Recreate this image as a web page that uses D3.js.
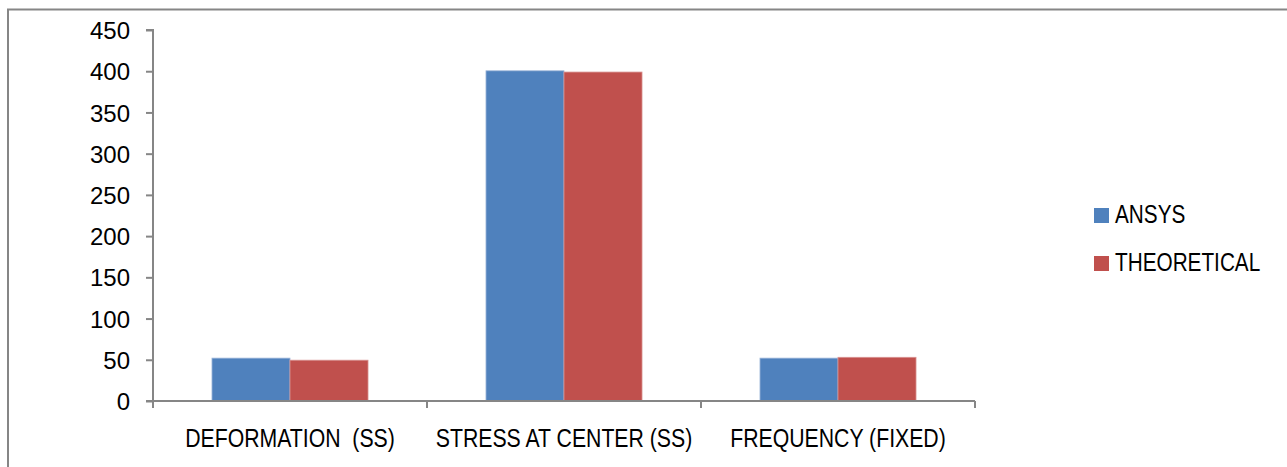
<!DOCTYPE html>
<html>
<head>
<meta charset="utf-8">
<script src="https://cdn.jsdelivr.net/npm/d3@7"></script>
<style>
  body { margin: 0; background: #fff; }
  svg text { font-family: "Liberation Sans", Arial, sans-serif; fill: #000; }
</style>
</head>
<body>
<div id="chart"></div>
<script>
// chart data
const categories = ["DEFORMATION  (SS)", "STRESS AT CENTER (SS)", "FREQUENCY (FIXED)"];
const seriesNames = ["ANSYS", "THEORETICAL"];
const ansysValues = [52, 400.5, 52];
const theoreticalValues = [49.5, 399, 53];
const yTicks = [0, 50, 100, 150, 200, 250, 300, 350, 400, 450];
const colors = ["#4F81BD", "#C0504D"];

const W = 1287, H = 467;
const svg = d3.select("#chart").append("svg")
    .attr("width", W)
    .attr("height", H);

// outer frame
svg.append("rect")
    .attr("x", 8).attr("y", 9.5)
    .attr("width", W + 10).attr("height", H + 10)
    .attr("fill", "none")
    .attr("stroke", "#868686")
    .attr("stroke-width", 2);

const plot = {left: 153, right: 975, top: 30, bottom: 401};

const x0 = d3.scaleBand()
    .domain(categories)
    .range([plot.left, plot.right])
    .paddingInner(0).paddingOuter(0);

// excel-like gap width between groups
const x1 = d3.scaleBand()
    .domain(seriesNames)
    .range([0, x0.bandwidth()])
    .paddingInner(0)
    .paddingOuter(0.756);

const y = d3.scaleLinear()
    .domain([0, 450])
    .range([plot.bottom, plot.top]);

const data = categories.map((c, i) => ({
    cat: c,
    vals: [ansysValues[i], theoreticalValues[i]]
}));

// bars
const groups = svg.selectAll(".grp")
    .data(data)
    .enter().append("g")
    .attr("class", "grp")
    .attr("transform", d => `translate(${x0(d.cat)},0)`);

groups.selectAll("rect")
    .data(d => d.vals.map((v, j) => ({name: seriesNames[j], v: v, j: j})))
    .enter().append("rect")
    .attr("x", d => x1(d.name))
    .attr("y", d => y(d.v))
    .attr("width", x1.bandwidth())
    .attr("height", d => y(0) - y(d.v))
    .attr("fill", d => colors[d.j])
    .attr("stroke", d => d.j === 0 ? "#9DB5D9" : "#D99392")
    .attr("stroke-width", 0.8);

// y axis
const yAxis = svg.append("g")
    .attr("transform", `translate(${plot.left},0)`)
    .call(d3.axisLeft(y).tickValues(yTicks).tickSize(7).tickPadding(16).tickFormat(d3.format("d")));
yAxis.select(".domain").attr("stroke", "#868686").attr("stroke-width", 2)
    .attr("d", `M-7,${plot.top}H0V${plot.bottom}`);
yAxis.selectAll(".tick line").attr("stroke", "#868686").attr("stroke-width", 2);
yAxis.selectAll(".tick text").style("font-size", "24px").attr("dy", "0.36em");

// x axis
const xAxis = svg.append("g")
    .attr("transform", `translate(0,${plot.bottom})`);
xAxis.append("line")
    .attr("x1", plot.left - 7).attr("x2", plot.right)
    .attr("y1", 0).attr("y2", 0)
    .attr("stroke", "#868686").attr("stroke-width", 2);
const bounds = categories.map(c => x0(c)).concat([plot.right]);
xAxis.selectAll(".xt")
    .data(bounds)
    .enter().append("line")
    .attr("x1", d => d).attr("x2", d => d)
    .attr("y1", 0).attr("y2", 7)
    .attr("stroke", "#868686").attr("stroke-width", 2);
xAxis.selectAll(".xl")
    .data(categories)
    .enter().append("text")
    .attr("transform", d => `translate(${x0(d) + x0.bandwidth() / 2},46) scale(0.85,1)`)
    .attr("text-anchor", "middle")
    .style("font-size", "25px")
    .style("white-space", "pre")
    .attr("xml:space", "preserve")
    .text(d => d);

// legend
const legend = svg.append("g").attr("transform", "translate(1094,208)");
seriesNames.forEach((name, i) => {
    const g = legend.append("g").attr("transform", `translate(0,${i * 48})`);
    g.append("rect")
        .attr("width", 15).attr("height", 15)
        .attr("fill", colors[i]);
    g.append("text")
        .attr("transform", "translate(21,15) scale(0.83,1)")
        .style("font-size", "25px")
        .text(name);
});
</script>
</body>
</html>
